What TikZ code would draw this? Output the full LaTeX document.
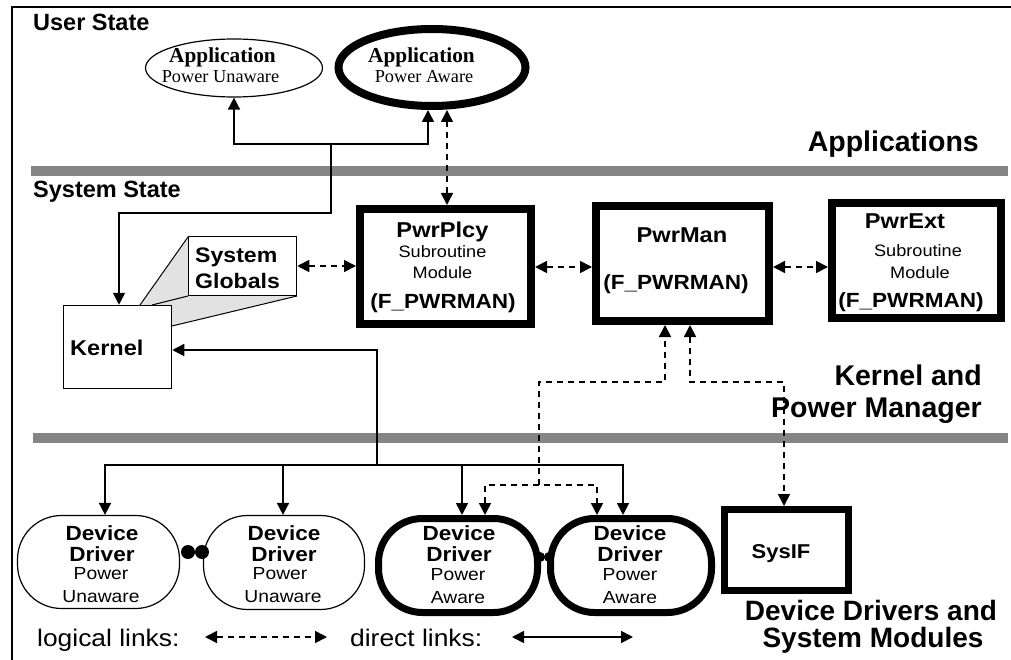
\documentclass[tikz,border=0pt]{standalone}
\usepackage{fontspec}
\setmainfont{Liberation Sans}
\newfontfamily\serifx{Liberation Serif}
\newfontfamily\sw[FakeStretch=1.1]{Liberation Sans}
\usetikzlibrary{arrows.meta,shapes.geometric}
\newcommand\setfs[1]{\fontsize{#1pt}{#1pt}\selectfont}
\definecolor{bargray}{HTML}{858585}
\definecolor{shadegray}{HTML}{E2E2E2}
\tikzset{
  txt/.style={inner sep=0pt, anchor=base},
  head/.style={txt, anchor=base west, font=\bfseries\setfs{23.5}},
  big/.style={inner sep=0pt, font=\bfseries\setfs{28.5}},
  ttl/.style={txt, font=\sw\bfseries\setfs{21.5}},
  sub/.style={txt, font=\sw\setfs{16.5}},
  fpw/.style={txt, font=\sw\bfseries\setfs{20.5}},
  ddb/.style={txt, font=\sw\bfseries\setfs{20.5}},
  ddr/.style={txt, font=\sw\setfs{17.5}},
  leg/.style={txt, anchor=base west, font=\sw\setfs{24}},
  thinbox/.style={draw, line width=1.5pt, fill=white, inner sep=0pt},
  thickbox/.style={draw, line width=8pt, fill=white, inner sep=0pt},
  dd/.style={draw, fill=white, inner sep=0pt, rounded corners=44pt},
  sarr/.style={line width=1.7pt, -{Triangle[length=12pt,width=12pt]}},
  sarrb/.style={line width=1.7pt, {Triangle[length=12pt,width=12pt]}-{Triangle[length=12pt,width=12pt]}},
  darr/.style={line width=1.7pt, dash pattern=on 6pt off 5pt, -{Triangle[length=12pt,width=12pt]}},
  darrb/.style={line width=1.7pt, dash pattern=on 6pt off 5pt, {Triangle[length=12pt,width=12pt]}-{Triangle[length=12pt,width=12pt]}},
}
\begin{document}
\begin{tikzpicture}[x=1pt,y=-1pt]
\useasboundingbox (0,0) rectangle (1011,660);
\fill[white] (0,0) rectangle (1011,660);
% frame
\draw[line width=2pt] (12,660) -- (12,7) -- (1011,7);
% separator bars
\fill[bargray] (31,166) rectangle (1008,176);
\fill[bargray] (33,433) rectangle (1008,443);
% labels of layers
\node[head] (us) at (33,31) {User State};
\node[head] (ss) at (33,197.5) {System State};
\node[big, anchor=base east] (lapp) at (979,152) {Applications};
\node[big, anchor=base east] (lk1) at (982,385) {Kernel and};
\node[big, anchor=base east] (lk2) at (982,417) {Power Manager};
\node[big, anchor=base, font=\bfseries\setfs{28}] (ld1) at (871,620) {Device Drivers and};
\node[big, anchor=base, font=\bfseries\setfs{28}] (ld2) at (873,647) {System Modules};
% shading between kernel and system globals
\fill[shadegray] (140,305) -- (188,237) -- (188,296) -- (297,296) -- (172,326) -- (172,305) -- cycle;
\draw[line width=1pt] (140,305) -- (188,237);
\draw[line width=1pt] (152,305) -- (188,296);
\draw[line width=1pt] (172,326) -- (297,296);
% application ellipses
\node[ellipse, draw, line width=1.2pt, fill=white, inner sep=0pt, minimum width=177pt, minimum height=58pt] (app1) at (234,68) {};
\node[ellipse, draw, line width=8pt, fill=white, inner sep=0pt, minimum width=187pt, minimum height=77pt] (app2) at (432,67.5) {};
\node[txt, font=\serifx\bfseries\setfs{21.3}] (a1t) at (222.5,63) {Application};
\node[txt, font=\serifx\setfs{18.3}] (a1s) at (220.5,83) {Power Unaware};
\node[txt, font=\serifx\bfseries\setfs{21.3}] (a2t) at (421.5,63) {Application};
\node[txt, font=\serifx\setfs{18.3}] (a2s) at (424,83) {Power Aware};
% system boxes
\node[thinbox, minimum width=108pt, minimum height=83pt] (kernel) at (117.5,347) {};
\node[txt, anchor=base west, font=\sw\bfseries\setfs{21.4}] (kt) at (70,355) {Kernel};
\node[thinbox, minimum width=108pt, minimum height=59pt] (globals) at (242.5,266) {};
\node[txt, anchor=base west, font=\sw\bfseries\setfs{21}] (gt1) at (195,262) {System};
\node[txt, anchor=base west, font=\sw\bfseries\setfs{21}] (gt2) at (195,288) {Globals};
\node[thickbox, minimum width=171pt, minimum height=115pt] (pwrplcy) at (445.5,266.5) {};
\node[ttl] (p1a) at (442.5,237) {PwrPlcy};
\node[sub] (p1b) at (442.5,258) {Subroutine};
\node[sub] (p1c) at (442.5,278) {Module};
\node[fpw] (p1d) at (443,308) {(F\_PWRMAN)};
\node[thickbox, minimum width=173pt, minimum height=115pt] (pwrman) at (682.5,263.5) {};
\node[ttl] (p2a) at (682,243) {PwrMan};
\node[fpw] (p2d) at (676,289) {(F\_PWRMAN)};
\node[thickbox, minimum width=169pt, minimum height=115pt] (pwrext) at (916.5,260.5) {};
\node[ttl] (p3a) at (905,229) {PwrExt};
\node[sub] (p3b) at (918,257) {Subroutine};
\node[sub] (p3c) at (920,278) {Module};
\node[fpw] (p3d) at (911,307) {(F\_PWRMAN)};
% device drivers
\node[dd, line width=1.2pt, minimum width=162pt, minimum height=93pt] (dd1) at (98.5,562) {};
\node[dd, line width=1.2pt, minimum width=161pt, minimum height=94pt] (dd2) at (284,562.5) {};
\node[dd, line width=7pt, rounded corners=44pt, minimum width=159pt, minimum height=94pt] (dd3) at (458,565.5) {};
\node[dd, line width=7pt, rounded corners=44pt, minimum width=161pt, minimum height=94pt] (dd4) at (631,565.5) {};
\fill (188,552) circle[radius=7pt];
\fill (202,552) circle[radius=7pt];
\fill (540,557) circle[radius=5pt];
\fill (549,557) circle[radius=5pt];
\node[ddb] (d1a) at (102,540) {Device};
\node[ddb] (d1b) at (102,561) {Driver};
\node[ddr] (d1c) at (101,579) {Power};
\node[ddr] (d1d) at (101,602) {Unaware};
\node[ddb] (d2a) at (284,540) {Device};
\node[ddb] (d2b) at (284,561) {Driver};
\node[ddr] (d2c) at (280,579) {Power};
\node[ddr] (d2d) at (283,602) {Unaware};
\node[ddb] (d3a) at (459,540) {Device};
\node[ddb] (d3b) at (459,561) {Driver};
\node[ddr] (d3c) at (458,580) {Power};
\node[ddr] (d3d) at (458,603) {Aware};
\node[ddb] (d4a) at (630,540) {Device};
\node[ddb] (d4b) at (630,561) {Driver};
\node[ddr] (d4c) at (630,580) {Power};
\node[ddr] (d4d) at (630,603) {Aware};
\node[thickbox, line width=7pt, minimum width=124pt, minimum height=81pt] (sysif) at (786.5,550) {};
\node[txt, font=\sw\bfseries\setfs{20}] (st) at (781,558) {SysIF};
% junction coordinates
\coordinate (j1) at (331,144);
\coordinate (j2) at (377,465);
\coordinate (jd) at (539,485);
\coordinate (jr) at (784,382);
% solid links
\draw[sarrb] (app1.south) |- (j1) -| ([xshift=-4pt]app2.south);
\draw[sarr] (j1) |- (119,213) -- ([xshift=1.5pt]kernel.north);
\draw[sarr] (j2) |- (kernel.east |- 0,350);
\draw[sarr] (j2) -| ([xshift=6.5pt]dd1.north);
\draw[sarr] (j2) -| ([xshift=-1pt]dd2.north);
\draw[sarr] (j2) -| ([xshift=4pt]dd3.north);
\draw[sarr] (j2) -| ([xshift=-8pt]dd4.north);
% logical links
\draw[darrb] (pwrplcy.north -| 447,0) -- (447,0 |- app2.south);
\draw[darrb] (globals.east) -- (pwrplcy.west |- globals.east);
\draw[darrb] (pwrplcy.east |- 0,267) -- (pwrman.west |- 0,267);
\draw[darrb] (pwrman.east |- 0,267) -- (pwrext.west |- 0,267);
\draw[darr] (jd) |- (jd |- jr) -| ([xshift=-17.5pt]pwrman.south);
\draw[darrb] ([xshift=27pt]dd3.north) |- (jd) -| ([xshift=-34pt]dd4.north);
\draw[darrb] ([xshift=7.5pt]pwrman.south) |- (jr) -- (sysif.north -| jr);
% legend
\node[leg] (ll) at (37,646) {logical links:};
\coordinate (l1a) at (205,637);
\coordinate (l1b) at (327,637);
\draw[darrb] (l1a) -- (l1b);
\node[leg] (dl) at (350,646) {direct links:};
\coordinate (l2a) at (512,637);
\coordinate (l2b) at (633,637);
\draw[sarrb] (l2a) -- (l2b);
\end{tikzpicture}
\end{document}
